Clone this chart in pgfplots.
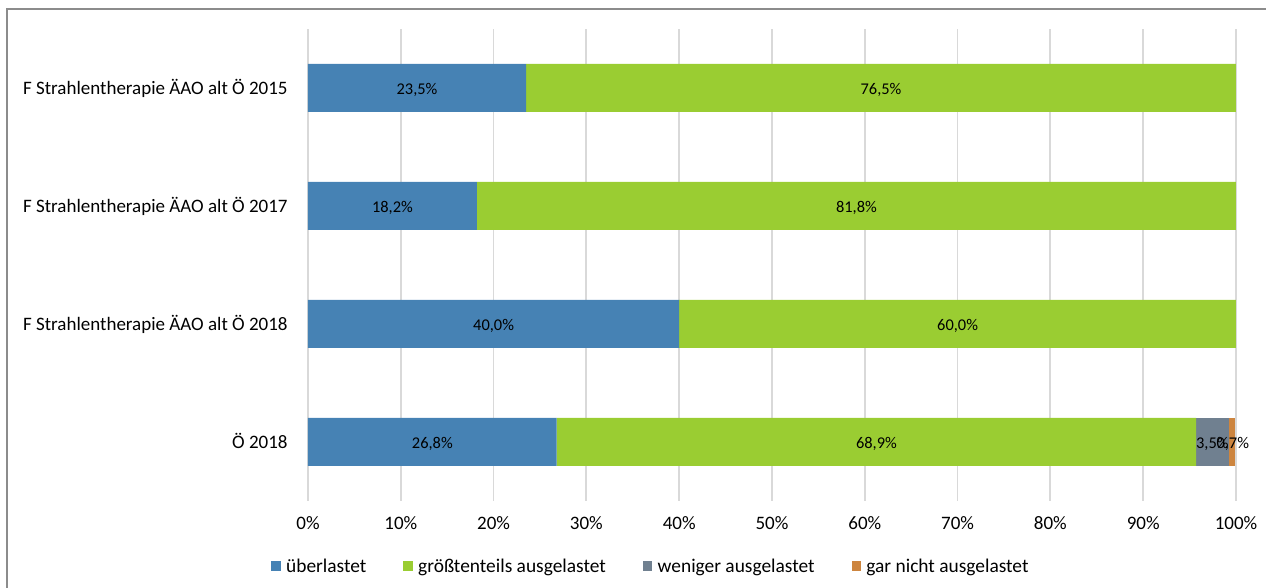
\documentclass[border=0pt]{standalone}
\usepackage{pgfplots}
\pgfplotsset{compat=1.18}
\usepackage{fontspec}
\setmainfont{Carlito}
\definecolor{cBlue}{RGB}{70,130,180}
\definecolor{cGreen}{RGB}{154,205,50}
\definecolor{cGray}{RGB}{112,128,144}
\definecolor{cOrange}{RGB}{205,133,63}
\definecolor{cGrid}{RGB}{217,217,217}
\definecolor{cFrame}{RGB}{140,140,140}
\begin{document}
\begin{tikzpicture}
\path[use as bounding box] (-154pt,-43.5pt) rectangle (479pt,250.5pt);
\draw[cFrame, line width=1pt] (-150.25pt,-44pt) -- (-150.25pt,245.75pt) -- (480pt,245.75pt);
\pgfplotsset{
  common/.style={
    scale only axis, width=464pt, height=236pt,
    xmin=0, xmax=100, ymin=-0.5, ymax=3.5,
    at={(0pt,0pt)}, anchor=south west,
  }
}
\begin{axis}[common,
  xbar stacked, bar width=24pt,
  axis line style={draw=none}, tick style={draw=none},
  xmajorgrids, grid style={cGrid, line width=0.9pt},
  xtick={0,10,...,100},
  xticklabels={0\%,10\%,20\%,30\%,40\%,50\%,60\%,70\%,80\%,90\%,100\%},
  ytick={0,1,2,3},
  yticklabels={Ö 2018, F Strahlentherapie ÄAO alt Ö 2018, F Strahlentherapie ÄAO alt Ö 2017, F Strahlentherapie ÄAO alt Ö 2015},
  ticklabel style={font=\fontsize{9.5}{11}\selectfont, inner sep=0pt, text height=0.65em, text depth=0pt},
  xticklabel style={anchor=center, yshift=-11pt},
  yticklabel style={anchor=east, xshift=-10pt},
  legend style={draw=none, inner sep=0pt, at={(-0.0399,-0.1377)}, anchor=west,
    legend columns=-1, font=\fontsize{9.7}{11.2}\selectfont,
    nodes={inner sep=0pt, text height=0.65em, text depth=0pt},
    /tikz/every odd column/.append style={column sep=2.8pt},
    /tikz/every even column/.append style={column sep=18.5pt}},
  legend image code/.code={\fill[#1] (0pt,-2.3pt) rectangle (4.6pt,2.3pt);},
  clip=false,
]
\addplot[fill=cBlue, draw=none] coordinates {(26.8,0) (40.0,1) (18.2,2) (23.5,3)};
\addlegendentry{überlastet}
\addplot[fill=cGreen, draw=none] coordinates {(68.9,0) (60.0,1) (81.8,2) (76.5,3)};
\addlegendentry{größtenteils ausgelastet}
\addplot[fill=cGray, draw=none] coordinates {(3.5,0) (0,1) (0,2) (0,3)};
\addlegendentry{weniger ausgelastet}
\addplot[fill=cOrange, draw=none] coordinates {(0.7,0) (0,1) (0,2) (0,3)};
\addlegendentry{gar nicht ausgelastet}
\end{axis}
\begin{axis}[common, hide axis, clip=false]
\addplot[only marks, mark=none, nodes near coords, point meta=explicit symbolic,
  every node near coord/.append style={anchor=center, font=\fontsize{8.2}{9.8}\selectfont, inner sep=0pt, text height=0.65em, text depth=0pt, black}]
coordinates {
(11.75,3) [23,5\%]
(61.75,3) [76,5\%]
(9.1,2) [18,2\%]
(59.1,2) [81,8\%]
(20,1) [40,0\%]
(70,1) [60,0\%]
(13.4,0) [26,8\%]
(61.25,0) [68,9\%]
(97.45,0) [3,5\%]
(99.65,0) [0,7\%]
};
\end{axis}
\end{tikzpicture}
\end{document}
